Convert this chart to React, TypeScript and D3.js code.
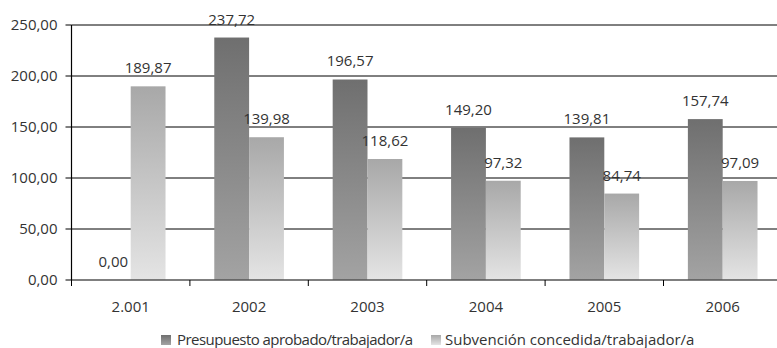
import React from "react";
import * as d3 from "d3";

const categories = ["2.001", "2002", "2003", "2004", "2005", "2006"];
const presupuesto = [0, 237.72, 196.57, 149.2, 139.81, 157.74];
const subvencion = [189.87, 139.98, 118.62, 97.32, 84.74, 97.09];
const yTicks = [0, 50, 100, 150, 200, 250];
const seriesNames = ["Presupuesto aprobado/trabajador/a", "Subvención concedida/trabajador/a"];

const W = 777;
const H = 348;
const left = 71.5;
const top = 25;
const bottom = 280;
const bandW = 118.4;

const fmt = (v: number) => v.toFixed(2).replace(".", ",");
const FONT = "'Open Sans', 'Noto Sans', sans-serif";

export default function App() {
  const x = d3.scaleBand<string>().domain(categories).range([left, left + bandW * categories.length]).paddingInner(0).paddingOuter(0);
  const inner = d3.scaleBand<string>().domain(["a", "b"]).range([0, x.bandwidth()]).paddingOuter(0.7).paddingInner(0);
  const y = d3.scaleLinear().domain([0, 250]).range([bottom, top]);
  const series = [
    { key: "a", values: presupuesto, grad: "gDark" },
    { key: "b", values: subvencion, grad: "gLight" },
  ];
  return (
    <svg width={W} height={H} style={{ position: "absolute", left: 0, top: 0, background: "#fff" }} fontFamily={FONT}>
      <defs>
        <linearGradient id="gDark" x1="0" y1="0" x2="0" y2="1">
          <stop offset="0" stopColor="#6f6f6f" />
          <stop offset="1" stopColor="#a3a3a3" />
        </linearGradient>
        <linearGradient id="gLight" x1="0" y1="0" x2="0" y2="1">
          <stop offset="0" stopColor="#a8a8a8" />
          <stop offset="1" stopColor="#e4e4e4" />
        </linearGradient>
      </defs>
      {yTicks.slice(1).map((t) => (
        <line key={"g" + t} x1={left} x2={W} y1={y(t)} y2={y(t)} stroke="#000" strokeWidth={1} />
      ))}
      {series.map((s) =>
        s.values.map((v, i) => {
          const bx = (x(categories[i]) as number) + (inner(s.key) as number);
          return (
            <rect key={s.key + i} x={bx} y={y(v)} width={inner.bandwidth()} height={bottom - y(v)} fill={`url(#${s.grad})`} />
          );
        })
      )}
      <line x1={left} x2={W} y1={bottom} y2={bottom} stroke="#555" strokeWidth={1.5} />
      <line x1={left} x2={left} y1={top} y2={bottom} stroke="#000" strokeWidth={1.2} />
      {yTicks.map((t) => (
        <g key={"t" + t}>
          <line x1={left - 6} x2={left} y1={y(t)} y2={y(t)} stroke="#000" />
          <text x={left - 14} y={y(t)} dy="0.35em" textAnchor="end" fontSize={15} fill="#333">
            {fmt(t)}
          </text>
        </g>
      ))}
      {categories.map((c) => (
        <g key={"c" + c}>
          <line x1={x(c) as number} x2={x(c) as number} y1={bottom} y2={bottom + 6} stroke="#000" />
          <text x={(x(c) as number) + x.bandwidth() / 2} y={307} dy="0.35em" textAnchor="middle" fontSize={15} fill="#333">
            {c}
          </text>
        </g>
      ))}
      {series.map((s) =>
        s.values.map((v, i) => {
          const cx = (x(categories[i]) as number) + (inner(s.key) as number) + inner.bandwidth() / 2;
          return (
            <text key={"l" + s.key + i} x={cx} y={y(v) - 13} textAnchor="middle" fontSize={15} fill="#333">
              {fmt(v)}
            </text>
          );
        })
      )}
      <g>
        <rect x={161} y={335} width={10} height={10} fill="url(#gDark)" />
        <text x={177} y={340} dy="0.35em" fontSize={15} fill="#333" textLength={236} lengthAdjust="spacing">{seriesNames[0]}</text>
        <rect x={431} y={335} width={10} height={10} fill="url(#gLight)" />
        <text x={445} y={340} dy="0.35em" fontSize={15} fill="#333">{seriesNames[1]}</text>
      </g>
    </svg>
  );
}
